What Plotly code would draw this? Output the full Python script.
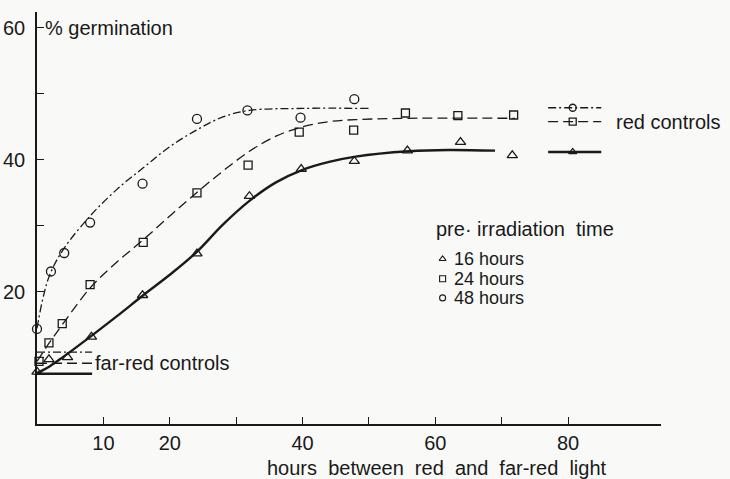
import plotly.graph_objects as go

# ---- data points (hours between red and far-red, % germination)
tri_x = [0, 1.8, 4.6, 8.2, 15.9, 24.1, 32, 39.8, 47.8, 55.8, 63.8, 71.6]
tri_y = [7.9, 9.8, 10.1, 13.2, 19.5, 25.8, 34.5, 38.6, 39.8, 41.4, 42.7, 40.7]
sq_x = [0.3, 1.8, 3.8, 8, 16, 24.1, 31.8, 39.5, 47.7, 55.5, 63.4, 71.8]
sq_y = [9.5, 12.3, 15.2, 21.1, 27.5, 35, 39.2, 44.2, 44.5, 47.1, 46.7, 46.8]
cir_x = [0, 2.1, 4.1, 8, 15.9, 24.1, 31.7, 39.7, 47.8]
cir_y = [14.4, 23.1, 25.9, 30.5, 36.4, 46.2, 47.5, 46.4, 49.2]

# ---- fitted curves
c16_x = [0, 2, 4, 8, 12, 16, 20, 24, 28, 32, 36, 40, 44, 48, 56, 62, 69]
c16_y = [7.7, 8.8, 10.2, 13.2, 16.3, 19.5, 22.6, 26.0, 30.2, 33.8, 36.6, 38.5, 39.7, 40.5, 41.3, 41.5, 41.4]
c24_x = [0, 2, 4, 8, 12, 16, 20, 24, 28, 32, 36, 40, 44, 48, 56, 72]
c24_y = [9.5, 12.5, 15.3, 20.6, 24.5, 27.9, 31.5, 35, 38.3, 41.3, 43.6, 45, 45.8, 46.1, 46.3, 46.3]
c48_x = [0, 1, 2, 4, 8, 12, 16, 20, 24, 28, 32, 40, 50]
c48_y = [14.5, 19.5, 22.8, 26.5, 31.5, 35.5, 38.8, 42, 44.5, 46.5, 47.5, 47.8, 47.8]

# ---- controls
red_ctrl_x = [77, 85]
red_ctrl_y = [47.9, 45.8, 41.2]          # 48 h, 24 h, 16 h
red_ctrl_mark_x = 80.7
farred_ctrl_x = [0, 8.3]
farred_ctrl_y = [10.9, 9.2, 7.6]         # 48 h, 24 h, 16 h

x_ticks = [10, 20, 30, 40, 50, 60, 70, 80]
x_ticktext = ["10", "20", "", "40", "", "60", "", "80"]
y_ticks = [10, 20, 30, 40, 50, 60]
y_ticktext = ["", "20", "", "40", "", "60"]

INK = "#1a1a1a"
FONT = "Liberation Sans, Arial, sans-serif"
FS = 20
DD = "8px,3px,2px,3px"
DA = "10px,5px"

fig = go.Figure()

def line(xs, ys, dash, width):
    fig.add_trace(go.Scatter(x=xs, y=ys, mode="lines",
                             line=dict(color=INK, width=width, dash=dash, shape="spline", smoothing=1.0),
                             showlegend=False, hoverinfo="skip", cliponaxis=False))

def marks(xs, ys, sym, size, lw=1.3):
    fig.add_trace(go.Scatter(x=xs, y=ys, mode="markers",
                             marker=dict(symbol=sym, size=size, color=INK, line=dict(color=INK, width=lw)),
                             showlegend=False, cliponaxis=False))

line(c48_x, c48_y, DD, 1.3)
line(c24_x, c24_y, DA, 1.3)
line(c16_x, c16_y, "solid", 2.4)
marks(cir_x, cir_y, "circle-open", 9)
marks(sq_x, sq_y, "square-open", 8)
marks(tri_x, tri_y, "triangle-up-open", 9)

# red controls
styles = [(DD, 1.3, "circle-open"), (DA, 1.3, "square-open"), ("solid", 2.4, "triangle-up-open")]
for yv, (d, w, s) in zip(red_ctrl_y, styles):
    line(red_ctrl_x, [yv, yv], d, w)
    marks([red_ctrl_mark_x], [yv], s, 7)
# far-red controls
for yv, (d, w, s) in zip(farred_ctrl_y, styles):
    line(farred_ctrl_x, [yv, yv], d, w)

# pre-irradiation legend markers
leg_y = [25.0, 22.0, 19.1]
leg_sym = ["triangle-up-open", "square-open", "circle-open"]
for yv, s in zip(leg_y, leg_sym):
    marks([61.1], [yv], s, 6, 1.1)

ann = []
def txt(x, y, t, xanchor="left", size=FS, **kw):
    ann.append(dict(x=x, y=y, text=t, showarrow=False, xanchor=xanchor, yanchor="middle",
                    borderpad=0, font=dict(family=FONT, size=size, color=INK), **kw))

txt(62.6, 25.0, "16 hours", size=18)
txt(62.6, 22.0, "24 hours", size=18)
txt(62.6, 19.1, "48 hours", size=18)
txt(59.9, 29.6, "pre\u00b7 irradiation\u00a0 time")
txt(87.1, 45.8, "red controls")
txt(8.6, 9.2, "far-red controls")
txt(0.012, 60, "% germination", xref="paper", yref="y")
ann.append(dict(x=60.2, y=0, xref="x", yref="paper", yanchor="top", yshift=-31, showarrow=False,
                text="hours\u00a0 between\u00a0 red\u00a0 and\u00a0 far-red\u00a0 light",
                font=dict(family=FONT, size=FS, color=INK)))

fig.update_layout(
    width=730, height=479,
    margin=dict(l=37, r=69, t=12, b=55),
    paper_bgcolor="#f9f9f7", plot_bgcolor="#f9f9f7",
    annotations=ann,
    xaxis=dict(range=[0, 94], showgrid=False, zeroline=False, showline=True, linecolor=INK, linewidth=1.5,
               ticks="inside", ticklen=7, tickcolor=INK, tickwidth=1.2, automargin=False,
               tickvals=x_ticks, ticktext=x_ticktext, tickfont=dict(family=FONT, size=FS, color=INK)),
    yaxis=dict(range=[0, 62.4], showgrid=False, zeroline=False, showline=True, linecolor=INK, linewidth=1.5,
               ticks="inside", ticklen=7, tickcolor=INK, tickwidth=1.2, ticklabelstandoff=6, automargin=False,
               tickvals=y_ticks, ticktext=y_ticktext, tickfont=dict(family=FONT, size=FS, color=INK)),
)

fig.write_html("out.html", config={"displayModeBar": False},
               post_script="document.body.style.margin='0';document.body.style.overflow='hidden';")
